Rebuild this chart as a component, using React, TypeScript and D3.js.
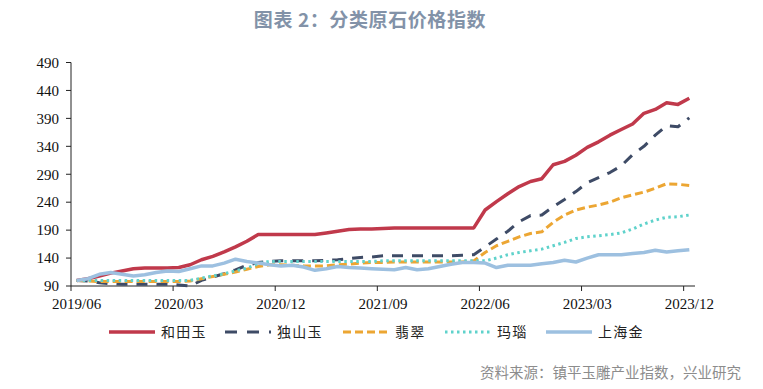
import React from "react";
import * as d3 from "d3";

const categories: string[] = d3
  .timeMonths(new Date(2019, 5, 1), new Date(2024, 0, 1))
  .map((d) => d3.timeFormat("%Y/%m")(d));

const tickLabels = ["2019/06", "2020/03", "2020/12", "2021/09", "2022/06", "2023/03", "2023/12"];
const yTicks = [90, 140, 190, 240, 290, 340, 390, 440, 490];

const hetian = [100, 103, 108, 113, 117, 121, 122, 122, 122, 123, 128, 137, 143, 151, 160, 170, 182, 182, 182, 182, 182, 182, 185, 188, 191, 192, 192, 193, 194, 194, 194, 194, 194, 194, 194, 194, 226, 241, 255, 268, 277, 282, 307, 313, 324, 338, 348, 360, 370, 380, 399, 406, 418, 415, 426];
const dushan = [100, 99, 96, 94, 93, 93, 93, 93, 93, 92, 90, 100, 106, 112, 119, 127, 132, 134, 135, 135, 135, 135, 136, 137, 139, 141, 142, 144, 144, 144, 144, 144, 144, 144, 145, 146, 160, 174, 188, 205, 216, 217, 232, 245, 259, 275, 284, 293, 305, 325, 340, 360, 377, 375, 391];
const feicui = [100, 99, 98, 98, 98, 98, 98, 98, 98, 98, 99, 103, 107, 111, 115, 120, 125, 128, 128, 127, 126, 126, 126, 128, 129, 131, 132, 132, 133, 133, 133, 133, 133, 133, 133, 135, 150, 162, 170, 178, 184, 187, 204, 217, 226, 231, 235, 240, 248, 253, 258, 265, 273, 272, 270];
const manao = [100, 100, 100, 100, 100, 100, 100, 100, 100, 100, 100, 104, 108, 112, 117, 122, 130, 134, 134, 134, 134, 134, 134, 134, 134, 134, 134, 135, 135, 135, 135, 135, 135, 135, 135, 135, 135, 140, 146, 150, 153, 156, 162, 168, 175, 178, 180, 182, 185, 192, 201, 208, 213, 214, 217];
const shanghaiGold = [100, 103, 111, 114, 111, 108, 110, 114, 117, 116, 121, 126, 126, 131, 138, 134, 131, 128, 126, 127, 124, 118, 121, 125, 123, 122, 121, 120, 119, 123, 119, 121, 125, 129, 132, 132, 131, 123, 127, 127, 127, 130, 132, 136, 133, 140, 146, 146, 146, 148, 150, 154, 151, 153, 155];

const seriesNames = ["和田玉", "独山玉", "翡翠", "玛瑙", "上海金"];

type Style = { color: string; width: number; dash?: string };
const styles: Style[] = [
  { color: "#c0394b", width: 3.5 },
  { color: "#3e4b66", width: 3, dash: "11,9" },
  { color: "#eca633", width: 3, dash: "8,4" },
  { color: "#5fd2cb", width: 3, dash: "2.5,3.5" },
  { color: "#9dc0e0", width: 3.5 },
];

const seriesData = [hetian, dushan, feicui, manao, shanghaiGold];

export default function App() {
  const W = 763;
  const H = 389;
  const x = d3.scaleBand<string>().domain(categories).range([71, 695]).paddingInner(0).paddingOuter(0);
  const bw = x.bandwidth();
  const y = d3.scaleLinear().domain([90, 490]).range([286, 62.5]);
  const line = d3
    .line<number>()
    .x((_, i) => (x(categories[i]) as number) + bw / 2)
    .y((d) => y(d));

  const legendStarts = [109, 225, 343, 445, 546];
  const legendY = 332;
  const serif = "'Liberation Serif', 'Times New Roman', serif";
  const cjk = "'Noto Sans CJK SC', sans-serif";

  return (
    <svg
      width={W}
      height={H}
      viewBox={`0 0 ${W} ${H}`}
      style={{ position: "absolute", left: 0, top: 0, background: "#fff" }}
    >
      <rect x={0} y={0} width={W} height={H} fill="#fff" />
      <text x={370} y={27} textAnchor="middle" fontFamily={cjk} fontWeight={700} fontSize={19} letterSpacing={0.6} fill="#8292a8">
        图表 2：分类原石价格指数
      </text>

      {/* y axis */}
      <line x1={71} x2={71} y1={y(490)} y2={y(90)} stroke="#222" strokeWidth={1} />
      {yTicks.map((t) => (
        <g key={t}>
          <line x1={66} x2={71} y1={y(t)} y2={y(t)} stroke="#222" strokeWidth={1} />
          <text x={59} y={y(t)} dy="0.35em" textAnchor="end" fontFamily={serif} fontSize={15} fill="#111">
            {t}
          </text>
        </g>
      ))}

      {/* x axis */}
      <line x1={71} x2={695} y1={286} y2={286} stroke="#222" strokeWidth={1} />
      {tickLabels.map((c) => (
        <g key={c}>
          <line x1={x(c) as number} x2={x(c) as number} y1={286} y2={291} stroke="#222" strokeWidth={1} />
          <text x={(x(c) as number) + bw / 2} y={309} textAnchor="middle" fontFamily={serif} fontSize={15} fill="#111">
            {c}
          </text>
        </g>
      ))}

      {/* series */}
      {seriesData.map((d, i) => (
        <path
          key={seriesNames[i]}
          d={line(d) as string}
          fill="none"
          stroke={styles[i].color}
          strokeWidth={styles[i].width}
          strokeDasharray={styles[i].dash}
          strokeLinejoin="round"
        />
      ))}

      {/* legend */}
      {seriesNames.map((n, i) => (
        <g key={n}>
          <line
            x1={legendStarts[i]}
            x2={legendStarts[i] + 46}
            y1={legendY}
            y2={legendY}
            stroke={styles[i].color}
            strokeWidth={styles[i].width}
            strokeDasharray={i === 1 ? "12,10" : styles[i].dash}
          />
          <text
            x={legendStarts[i] + 52}
            y={legendY}
            dy="0.36em"
            fontFamily={cjk}
            fontSize={14}
            letterSpacing={1.3}
            fill="#222"
          >
            {n}
          </text>
        </g>
      ))}

      <text x={741} y={378} textAnchor="end" fontFamily={cjk} fontSize={14.5} fill="#8c8c8c">
        资料来源：镇平玉雕产业指数，兴业研究
      </text>
    </svg>
  );
}
